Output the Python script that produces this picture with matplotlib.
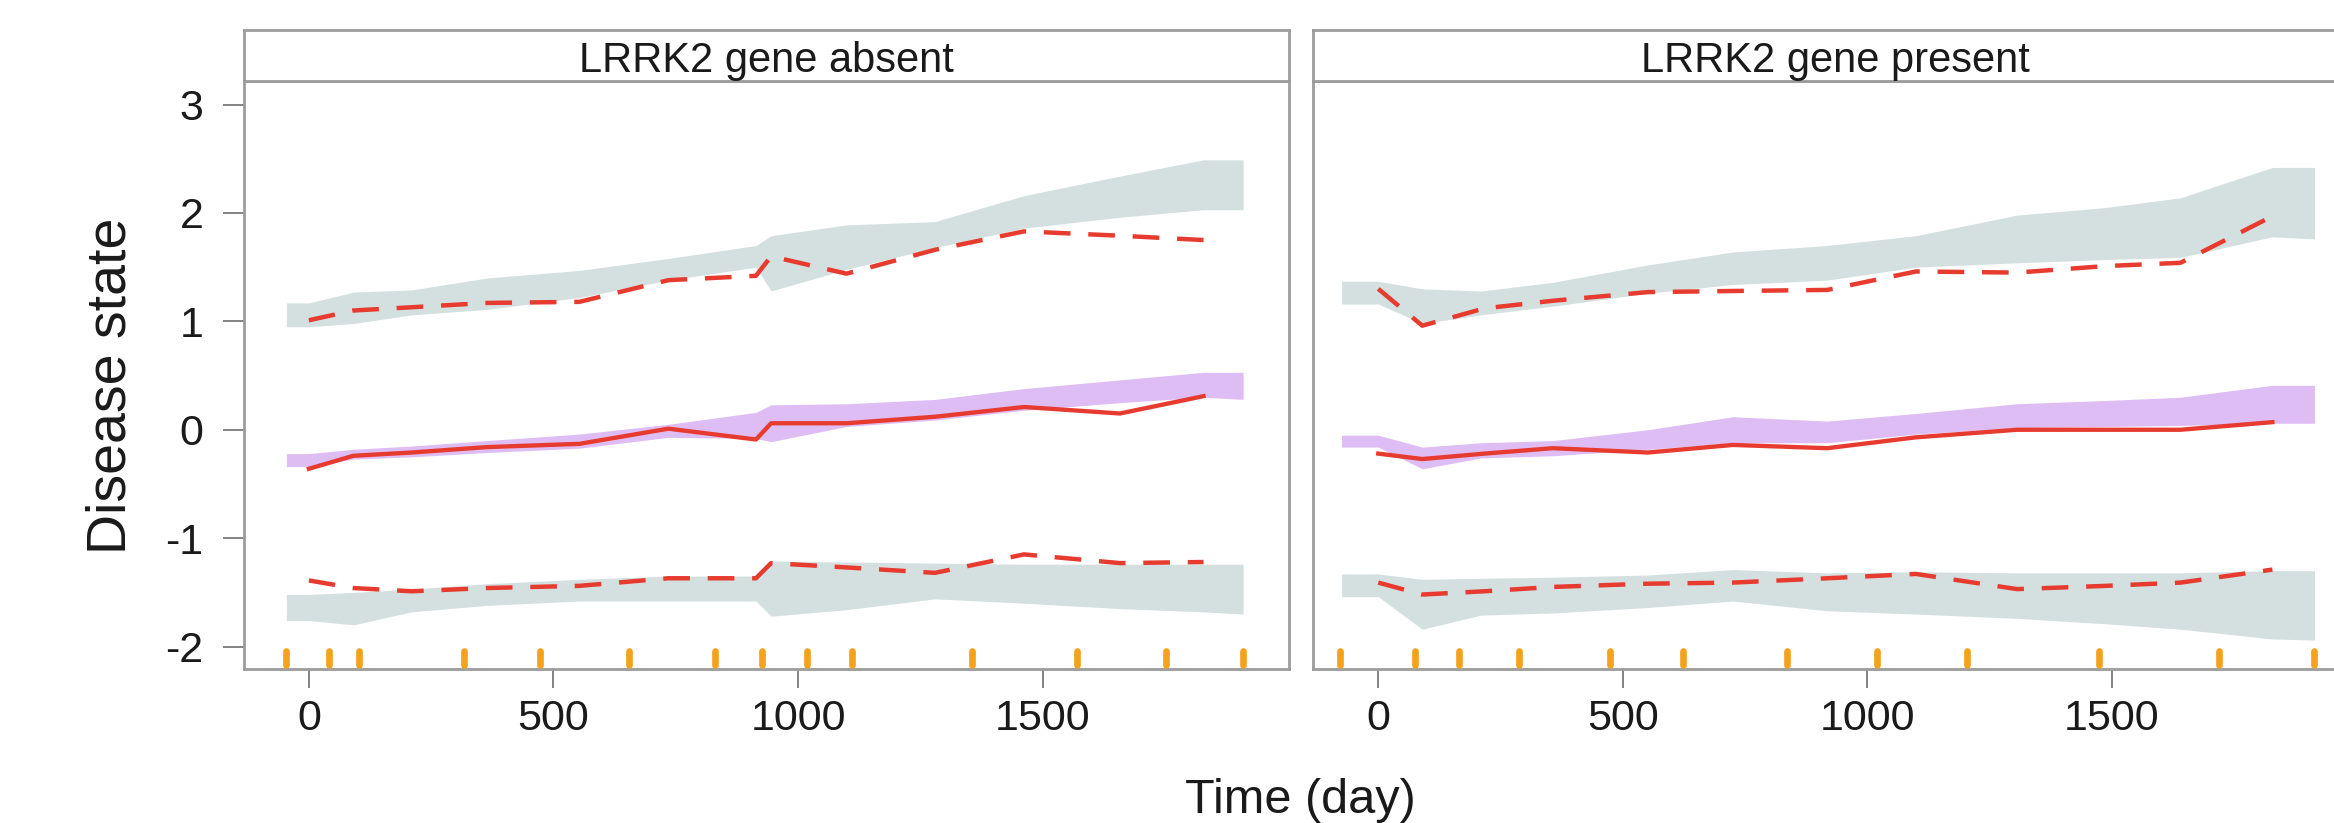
import matplotlib
matplotlib.use("Agg")
import matplotlib.pyplot as plt

# panel titles
panels = ["LRRK2 gene absent", "LRRK2 gene present"]

# ---- LRRK2 absent ----
band_x_abs = [-46, 0, 91, 210, 364, 553, 735, 914, 945, 1099, 1280, 1462, 1658, 1829, 1910]
hi_top_abs = [1.17, 1.17, 1.27, 1.29, 1.40, 1.47, 1.58, 1.70, 1.79, 1.89, 1.92, 2.16, 2.34, 2.49, 2.49]
hi_bot_abs = [0.95, 0.95, 0.98, 1.06, 1.11, 1.22, 1.38, 1.50, 1.28, 1.48, 1.68, 1.86, 1.96, 2.03, 2.03]
mid_top_abs = [-0.22, -0.22, -0.18, -0.15, -0.10, -0.04, 0.05, 0.16, 0.23, 0.24, 0.28, 0.38, 0.46, 0.53, 0.53]
mid_bot_abs = [-0.34, -0.34, -0.27, -0.25, -0.21, -0.17, -0.07, -0.08, -0.11, 0.03, 0.09, 0.18, 0.25, 0.30, 0.28]
lo_top_abs = [-1.52, -1.52, -1.50, -1.47, -1.42, -1.38, -1.35, -1.35, -1.21, -1.22, -1.23, -1.24, -1.24, -1.24, -1.24]
lo_bot_abs = [-1.76, -1.76, -1.80, -1.68, -1.62, -1.58, -1.58, -1.58, -1.72, -1.66, -1.56, -1.60, -1.65, -1.68, -1.70]

line_x_abs = [0, 91, 210, 364, 553, 735, 914, 945, 1099, 1280, 1462, 1658, 1829]
mean_abs = [-0.36, -0.24, -0.21, -0.16, -0.13, 0.01, -0.09, 0.06, 0.06, 0.12, 0.21, 0.15, 0.31]
upper_abs = [1.01, 1.10, 1.13, 1.17, 1.18, 1.38, 1.42, 1.60, 1.44, 1.66, 1.83, 1.79, 1.75]
lower_abs = [-1.39, -1.46, -1.49, -1.46, -1.44, -1.37, -1.37, -1.23, -1.27, -1.32, -1.15, -1.23, -1.22]

rug_abs = [-46, 42, 102, 318, 472, 655, 830, 926, 1019, 1110, 1355, 1570, 1753, 1910]

# ---- LRRK2 present ----
band_x_pre = [-75, 0, 90, 210, 357, 551, 725, 918, 1099, 1306, 1487, 1640, 1828, 1914]
hi_top_pre = [1.37, 1.37, 1.30, 1.28, 1.36, 1.52, 1.64, 1.70, 1.79, 1.98, 2.05, 2.14, 2.42, 2.42]
hi_bot_pre = [1.16, 1.16, 0.98, 1.06, 1.14, 1.26, 1.34, 1.38, 1.50, 1.54, 1.57, 1.59, 1.78, 1.76]
mid_top_pre = [-0.05, -0.05, -0.16, -0.12, -0.10, 0.00, 0.12, 0.08, 0.15, 0.24, 0.27, 0.30, 0.41, 0.41]
mid_bot_pre = [-0.16, -0.16, -0.36, -0.26, -0.24, -0.18, -0.12, -0.12, -0.04, 0.02, 0.03, 0.04, 0.06, 0.06]
lo_top_pre = [-1.33, -1.33, -1.38, -1.37, -1.36, -1.34, -1.29, -1.32, -1.31, -1.32, -1.32, -1.32, -1.30, -1.30]
lo_bot_pre = [-1.54, -1.54, -1.84, -1.71, -1.69, -1.64, -1.58, -1.67, -1.70, -1.74, -1.79, -1.84, -1.93, -1.94]

line_x_pre = [0, 90, 217, 357, 551, 725, 918, 1099, 1306, 1487, 1640, 1828]
mean_pre = [-0.22, -0.27, -0.22, -0.17, -0.21, -0.14, -0.17, -0.07, 0.0, 0.0, 0.0, 0.07]
upper_pre = [1.30, 0.96, 1.12, 1.19, 1.27, 1.28, 1.29, 1.46, 1.45, 1.51, 1.54, 1.97]
lower_pre = [-1.41, -1.52, -1.49, -1.45, -1.42, -1.41, -1.37, -1.33, -1.47, -1.44, -1.41, -1.29]

rug_pre = [-78, 76, 166, 287, 473, 624, 836, 1019, 1203, 1473, 1718, 1914]

x_ticks = [0, 500, 1000, 1500]
y_ticks = [-2, -1, 0, 1, 2, 3]

GREYBAND = "#D4E0E0"
PURPLE = "#DEBDF5"
RED = "#E63B2E"
RUG = "#F4A11B"
FRAME = "#9C9C9C"

plt.rcParams['font.family'] = ['Liberation Sans', 'DejaVu Sans']
plt.rcParams['axes.unicode_minus'] = False

fig = plt.figure(figsize=(23.34, 8.23), dpi=100)

ax_w = 0.44765
ax_b = 0.18712
ax_h = 0.71482
lefts = [0.10446, 0.56264]

data = [
    (band_x_abs, hi_top_abs, hi_bot_abs, mid_top_abs, mid_bot_abs, lo_top_abs, lo_bot_abs,
     line_x_abs, mean_abs, upper_abs, lower_abs, rug_abs),
    (band_x_pre, hi_top_pre, hi_bot_pre, mid_top_pre, mid_bot_pre, lo_top_pre, lo_bot_pre,
     line_x_pre, mean_pre, upper_pre, lower_pre, rug_pre),
]

for i, (title, d) in enumerate(zip(panels, data)):
    (bx, ht, hb, mt, mb, lt, lb, lx, mean, up, lo, rug) = d
    ax = fig.add_axes([lefts[i], ax_b, ax_w, ax_h])

    # shaded bands
    ax.fill_between(bx, hb, ht, color=GREYBAND, lw=0, zorder=1)
    ax.fill_between(bx, mb, mt, color=PURPLE, lw=0, zorder=1)
    ax.fill_between(bx, lb, lt, color=GREYBAND, lw=0, zorder=1)

    # mean and interval lines
    ax.plot(lx, mean, color=RED, lw=3.1, zorder=3)
    ax.plot(lx, up, color=RED, lw=3.2, dashes=(6, 4), zorder=3)
    ax.plot(lx, lo, color=RED, lw=3.2, dashes=(6, 4), zorder=3)

    # rug of observation times
    rl = ax.vlines(rug, 0.006, 0.031, transform=ax.get_xaxis_transform(),
                   color=RUG, lw=4.8, zorder=4)
    rl.set_capstyle('round')

    ax.set_xlim(-133, 2003)
    ax.set_ylim(-2.207, 3.22)
    ax.set_xticks(x_ticks)
    ax.tick_params(axis='x', length=13.5, width=1.3, color="#7a7a7a",
                   labelsize=31, pad=8, labelcolor="#1a1a1a")
    if i == 0:
        ax.set_yticks(y_ticks)
        ax.tick_params(axis='y', length=15, width=1.3, color="#7a7a7a",
                       labelsize=31, pad=14, labelcolor="#1a1a1a")
    else:
        ax.set_yticks([])
    for s in ax.spines.values():
        s.set_color(FRAME)
        s.set_linewidth(2.0)

    # strip above panel
    st = fig.add_axes([lefts[i], 0.90194, ax_w, 0.0616])
    st.set_xticks([])
    st.set_yticks([])
    for s in st.spines.values():
        s.set_color(FRAME)
        s.set_linewidth(2.0)
    st.text(0.5, 0.18, title, ha='center', va='baseline', fontsize=30,
            color="#1a1a1a", transform=st.transAxes)

fig.text(0.0478, 0.531, "Disease state", rotation=90, ha='center', va='center',
         fontsize=40, color="#1a1a1a")
fig.text(0.557, 0.0122, "Time (day)", ha='center', va='baseline',
         fontsize=35, color="#1a1a1a")

fig.savefig("out.png", dpi=100)
